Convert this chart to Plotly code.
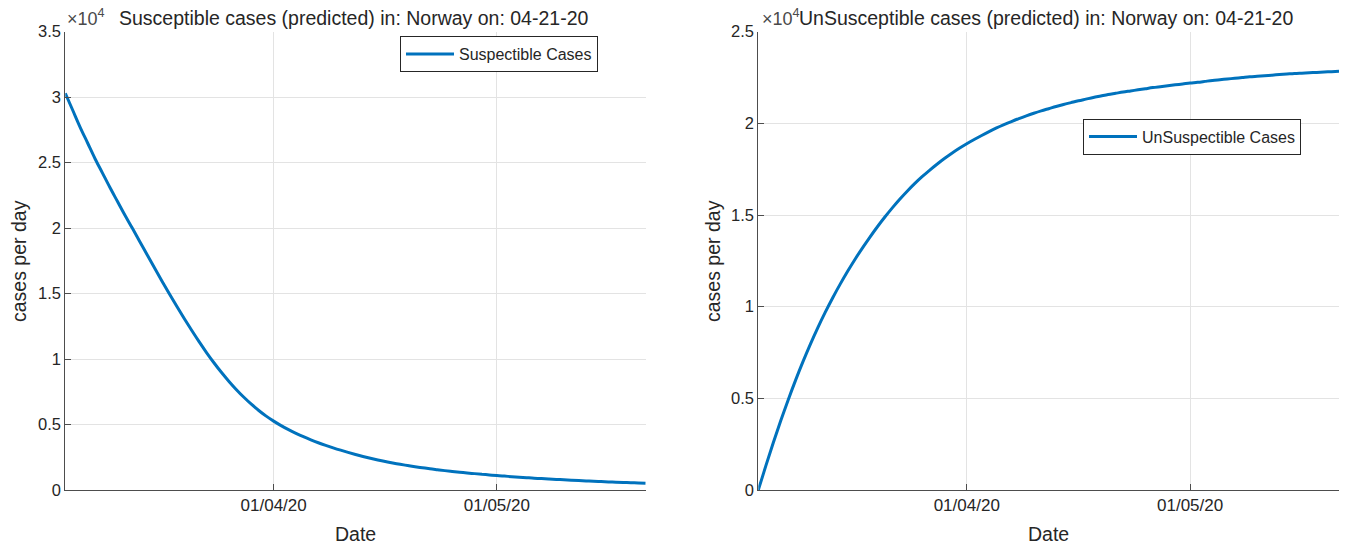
import pandas as pd
import plotly.graph_objects as go

W, H = 1348, 548

# ---- data -------------------------------------------------------------
dates = pd.date_range("2020-03-04", "2020-05-21", freq="D")

susceptible = [
    30300, 29000, 27700, 26500, 25300, 24200, 23100, 22050, 21000, 20000,
    18980, 17960, 16950, 15950, 14970, 14010, 13080, 12180, 11310, 10480,
    9700, 8970, 8290, 7660, 7080, 6550, 6070, 5640, 5260, 4920,
    4610, 4330, 4070, 3830, 3610, 3410, 3220, 3040, 2870, 2710,
    2560, 2420, 2290, 2170, 2060, 1960, 1870, 1780, 1700, 1620,
    1550, 1480, 1420, 1360, 1300, 1250, 1200, 1150, 1100, 1060,
    1020, 980, 940, 900, 870, 840, 810, 780, 750, 720,
    690, 660, 640, 620, 600, 580, 560, 540, 520,
]

unsusceptible = [
    0, 1300, 2560, 3760, 4900, 5980, 7000, 7960, 8860, 9700,
    10490, 11230, 11930, 12590, 13210, 13800, 14360, 14890, 15390, 15860,
    16300, 16710, 17090, 17440, 17770, 18080, 18370, 18640, 18890, 19120,
    19340, 19550, 19750, 19930, 20100, 20260, 20410, 20550, 20680, 20800,
    20920, 21030, 21130, 21230, 21320, 21410, 21490, 21570, 21640, 21710,
    21770, 21830, 21890, 21950, 22000, 22050, 22100, 22150, 22200, 22240,
    22290, 22340, 22380, 22420, 22460, 22500, 22540, 22570, 22600, 22630,
    22660, 22690, 22720, 22740, 22760, 22780, 22800, 22820, 22840,
]

x_tick_vals = ["2020-04-01", "2020-05-01"]
x_tick_text = ["01/04/20", "01/05/20"]
left_y_ticks = [0, 5000, 10000, 15000, 20000, 25000, 30000, 35000]
left_y_text = ["0", "0.5", "1", "1.5", "2", "2.5", "3", "3.5"]
right_y_ticks = [0, 5000, 10000, 15000, 20000, 25000]
right_y_text = ["0", "0.5", "1", "1.5", "2", "2.5"]

title_left = "Susceptible cases (predicted) in: Norway on: 04-21-20"
title_right = "UnSusceptible cases (predicted) in: Norway on: 04-21-20"
legend_left = "Suspectible Cases"
legend_right = "UnSuspectible Cases"

# ---- styling ----------------------------------------------------------
FONT = "Liberation Sans, Arial, Helvetica, sans-serif"
TXT = "#262626"
LINE = "#0072BD"
GRID = "#e3e3e3"
AXIS = "#4d4d4d"

def px_x(p):
    return p / W

def px_y(p):
    return 1 - p / H

fig = go.Figure()
fig.add_trace(go.Scatter(x=dates, y=susceptible, mode="lines", name=legend_left,
                         line=dict(color=LINE, width=3, shape="spline"),
                         xaxis="x", yaxis="y", legend="legend"))
fig.add_trace(go.Scatter(x=dates, y=unsusceptible, mode="lines", name=legend_right,
                         line=dict(color=LINE, width=3, shape="spline"),
                         xaxis="x2", yaxis="y2", legend="legend2"))

ydom = [px_y(490), px_y(31.7)]
xdom1 = [px_x(65.3), px_x(645.7)]
xdom2 = [px_x(758.3), px_x(1339)]

xcommon = dict(type="date", range=[dates[0], dates[-1]], tickvals=x_tick_vals,
               ticktext=x_tick_text, showgrid=True, gridcolor=GRID, gridwidth=1,
               showline=True, linecolor=AXIS, linewidth=1, ticks="inside",
               ticklen=6, tickcolor=AXIS, zeroline=False, automargin=False,
               tickfont=dict(family=FONT, size=17, color=TXT))
ycommon = dict(showgrid=True, gridcolor=GRID, gridwidth=1, showline=True,
               linecolor=AXIS, linewidth=1, ticks="inside", ticklen=6,
               tickcolor=AXIS, zeroline=False, automargin=False,
               tickfont=dict(family=FONT, size=16.5, color=TXT))

fig.update_layout(
    width=W, height=H,
    margin=dict(l=0, r=0, t=0, b=0, pad=0, autoexpand=False),
    paper_bgcolor="white", plot_bgcolor="white",
    xaxis=dict(domain=xdom1, anchor="y", **xcommon),
    yaxis=dict(domain=ydom, anchor="x", range=[0, 35000], tickvals=left_y_ticks,
               ticktext=left_y_text, **ycommon),
    xaxis2=dict(domain=xdom2, anchor="y2", **xcommon),
    yaxis2=dict(domain=ydom, anchor="x2", range=[0, 25000], tickvals=right_y_ticks,
                ticktext=right_y_text, **ycommon),
    legend=dict(x=px_x(400), y=px_y(36), xanchor="left", yanchor="top",
                bgcolor="white", bordercolor=TXT, borderwidth=1,
                font=dict(family=FONT, size=16, color=TXT), itemwidth=48),
    legend2=dict(x=px_x(1083), y=px_y(118.5), xanchor="left", yanchor="top",
                 bgcolor="white", bordercolor=TXT, borderwidth=1,
                 font=dict(family=FONT, size=16, color=TXT), itemwidth=48),
    showlegend=True,
)

ann = []
# titles
ann.append(dict(text=title_left, x=px_x(353), y=px_y(18), xref="paper", yref="paper",
                xanchor="center", yanchor="middle", showarrow=False,
                font=dict(family=FONT, size=19.5, color=TXT)))
ann.append(dict(text=title_right, x=px_x(1046), y=px_y(18), xref="paper", yref="paper",
                xanchor="center", yanchor="middle", showarrow=False,
                font=dict(family=FONT, size=19.5, color=TXT)))
# exponent labels
for xp in (65, 760):
    ann.append(dict(text="×10<sup>4</sup>", x=px_x(xp), y=px_y(17), xref="paper",
                    yref="paper", xanchor="left", yanchor="middle", showarrow=False,
                    font=dict(family=FONT, size=18, color="#4a4a4a")))
# axis titles
for xc in (355.5, 1048.5):
    ann.append(dict(text="Date", x=px_x(xc), y=px_y(534), xref="paper", yref="paper",
                    xanchor="center", yanchor="middle", showarrow=False,
                    font=dict(family=FONT, size=19.5, color=TXT)))
for xc in (19, 713):
    ann.append(dict(text="cases per day", x=px_x(xc), y=px_y(261), xref="paper",
                    yref="paper", xanchor="center", yanchor="middle", showarrow=False,
                    textangle=-90, font=dict(family=FONT, size=19.5, color=TXT)))
fig.update_layout(annotations=ann)

fig.write_html("out.html", config={"displayModeBar": False},
               post_script="document.body.style.margin='0';")
